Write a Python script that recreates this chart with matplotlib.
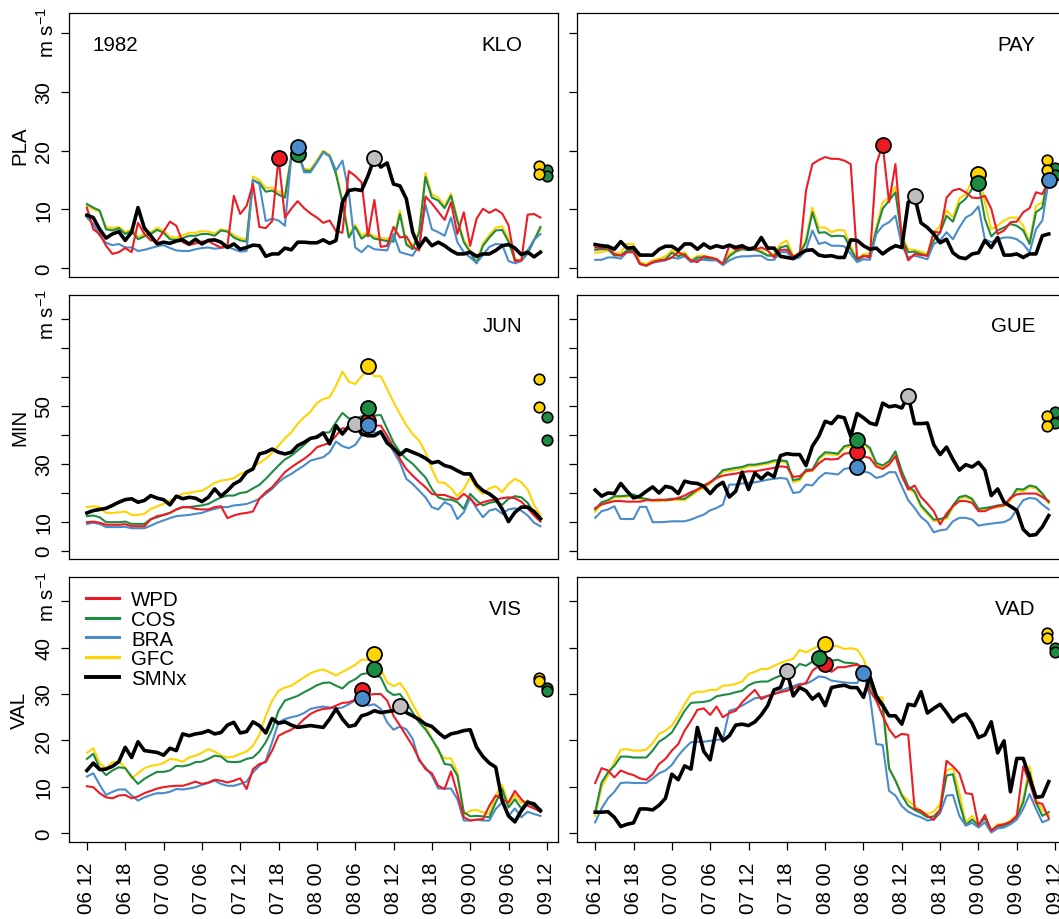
import numpy as np
import matplotlib
matplotlib.use('Agg')
import matplotlib.pyplot as plt
from matplotlib.lines import Line2D

plt.rcParams['font.family'] = ['Liberation Sans', 'DejaVu Sans']
plt.rcParams['mathtext.default'] = 'regular'

hours = np.arange(72)
tick_hours = np.arange(0, 73, 6)
tick_labels = ['06 12', '06 18', '07 00', '07 06', '07 12', '07 18', '08 00',
               '08 06', '08 12', '08 18', '09 00', '09 06', '09 12']
models = ['WPD', 'COS', 'BRA', 'GFC', 'SMNx']

# ---------------- KLO (PLA) ----------------
klo_wpd = [10.3,6.6,5.8,3.8,2.4,2.7,3.4,2.7,7.7,5.8, 4.7,4.6,6.2,7.9,7.2,4.4,3.9,4.2,4.5,4.6,
           4.0,3.5,3.8,12.3,9.2,10.6,14.3,7.0,6.8,8.0, 18.7,8.6,10.1,11.4,10.2,9.3,8.6,7.7,8.1,6.3,
           6.0,16.5,15.7,14.6,5.4,11.6,3.6,3.8,7.0,5.2, 5.4,3.6,3.0,12.2,11.0,9.6,8.2,11.2,5.8,9.5,
           3.8,8.4,10.1,9.4,10.0,9.3,7.3,1.2,1.3,9.1, 9.2,8.6]
klo_cos = [10.9,10.3,9.8,6.6,6.4,6.8,5.8,6.3,4.9,5.4, 5.8,6.5,6.0,4.9,4.8,5.1,5.5,5.5,5.8,5.8,
           5.5,6.4,6.2,5.2,4.7,4.5,15.0,14.5,13.0,13.2, 12.5,12.0,19.0,19.4,16.6,16.5,18.0,19.8,19.0,16.0,
           11.2,5.2,7.0,5.0,5.8,5.0,4.8,4.6,4.5,9.2, 4.0,3.2,6.0,15.5,12.0,11.5,10.2,12.3,8.0,4.4,
           2.7,0.8,3.8,5.2,6.4,6.5,4.5,1.3,1.2,2.5, 4.7,7.0]
klo_bra = [8.6,7.5,5.5,4.3,3.9,4.1,3.5,3.5,2.9,3.1, 3.4,3.7,3.9,3.4,3.0,2.9,2.9,3.2,3.4,3.5,
           3.3,3.4,3.6,3.2,2.8,2.9,15.0,14.3,8.0,8.4, 8.1,7.2,19.0,20.7,16.3,16.3,18.0,19.7,19.1,16.6,
           18.3,12.9,3.5,2.7,3.8,3.2,3.1,3.0,5.8,2.7, 2.4,2.1,4.0,10.8,6.6,6.1,5.5,8.6,4.4,2.7,
           1.8,0.9,2.2,3.6,4.1,4.0,1.2,0.8,1.2,3.0, 4.8,5.8]
klo_gfc = [10.7,10.0,9.6,7.0,6.8,7.0,6.1,6.6,5.3,5.8, 6.1,6.9,6.4,5.3,5.2,5.6,6.0,6.0,6.3,6.2,
           5.9,6.6,6.4,5.6,5.1,4.9,15.6,15.0,13.6,13.7, 13.0,12.5,19.3,19.8,16.9,16.8,18.4,20.0,19.3,16.4,
           11.6,5.6,7.4,5.5,6.1,5.4,5.1,5.0,4.9,9.8, 4.3,3.5,6.3,16.2,12.5,12.0,10.6,12.7,8.4,4.8,
           3.0,1.0,4.2,5.6,6.9,7.1,5.0,1.5,1.3,2.7, 4.9,6.6]
klo_smnx = [9.0,8.6,6.6,5.1,5.8,6.2,4.7,6.1,10.3,6.8, 5.5,4.1,4.4,4.2,4.6,4.8,4.1,4.9,4.1,4.7,
            4.8,4.4,3.5,4.1,3.2,3.5,3.9,3.8,2.0,2.4, 2.4,3.4,3.1,4.4,4.4,4.3,4.3,4.8,4.2,4.7,
            11.2,13.2,13.4,13.2,15.7,18.7,17.2,17.9,14.3,14.0, 11.8,6.1,3.5,5.1,3.8,4.4,3.8,3.0,2.4,2.4,
            2.7,2.0,2.4,2.4,3.0,3.8,4.0,3.4,2.3,2.7, 1.9,2.7]
klo_peak_model = ['SMNx', 'WPD', 'COS', 'BRA']
klo_peak_hour = [45, 30, 33, 33]
klo_peak_val = [18.7, 18.7, 19.4, 20.7]
klo_side_gfc = [17.3, 16.0]
klo_side_cos = [16.7, 15.6]

# ---------------- PAY (PLA) ----------------
pay_wpd = [3.5,3.4,3.5,2.4,2.1,2.7,2.7,0.7,0.4,1.0, 1.3,1.4,1.8,2.7,2.1,1.3,1.0,2.0,1.8,1.5,
           0.7,3.8,3.1,3.4,3.5,3.1,3.5,3.0,1.8,3.1, 3.1,2.0,2.2,13.2,17.7,18.4,18.9,18.6,18.6,18.3,
           17.7,1.6,2.1,1.8,17.7,21.0,11.2,17.7,4.9,1.3, 2.4,2.2,2.1,6.2,6.0,12.0,13.2,13.5,12.9,12.0,
           11.9,12.3,10.1,5.8,6.4,7.8,7.9,9.5,10.2,12.9, 12.6,14.9]
pay_cos = [3.1,3.2,3.2,2.1,2.2,3.0,3.1,0.7,0.4,1.0, 1.3,1.5,2.6,2.0,2.4,1.1,1.8,1.8,1.5,1.4,
           0.6,2.0,2.8,3.2,3.1,3.1,2.7,2.1,2.1,3.5, 3.8,1.8,2.4,4.4,9.5,6.0,6.1,5.4,5.5,5.4,
           3.2,1.3,2.0,2.1,6.4,10.1,11.5,12.9,5.1,2.7, 2.8,2.4,2.1,4.7,6.1,8.9,7.9,10.9,11.8,13.5,
           14.4,8.4,5.4,6.4,6.9,7.5,7.2,6.4,4.1,9.5, 10.3,16.0]
pay_bra = [1.4,1.4,1.8,1.8,1.6,2.7,2.7,0.7,0.4,0.9, 1.1,1.3,1.8,1.6,2.0,1.0,1.4,1.4,1.3,1.3,
           0.5,1.3,1.8,2.0,2.0,2.1,2.1,1.4,1.4,2.7, 2.7,1.5,1.8,3.1,6.4,4.1,4.4,3.8,3.8,3.7,
           2.4,1.0,1.5,1.4,5.8,7.2,7.8,8.9,3.8,1.8, 2.1,1.8,1.5,4.1,4.7,6.1,4.9,6.9,8.6,9.2,
           10.5,4.9,4.4,4.9,5.2,5.2,4.9,4.1,2.7,6.6, 8.1,15.0]
pay_gfc = [2.6,2.7,3.0,2.4,2.7,4.1,4.1,1.0,0.7,1.3, 1.6,2.0,3.0,2.4,2.7,1.3,2.1,2.1,1.8,1.6,
           0.7,2.4,3.1,3.5,3.1,3.2,3.0,2.2,2.4,4.1, 4.7,2.1,2.6,4.9,10.3,6.9,6.9,6.1,6.5,6.4,
           3.8,1.4,2.4,2.4,6.9,11.2,12.0,13.8,5.5,3.2, 3.1,2.8,2.4,6.0,7.2,9.8,8.6,11.8,12.6,14.9,
           16.0,11.2,6.6,7.2,8.1,8.6,8.6,7.2,4.4,10.6, 11.2,15.2]
pay_smnx = [4.0,3.8,3.7,3.2,4.5,3.4,3.5,2.2,2.2,2.2, 3.2,3.7,3.7,3.0,4.1,4.1,3.2,4.1,3.4,3.8,
            3.5,3.9,3.5,3.8,3.2,3.5,5.2,3.4,3.4,2.0, 1.8,1.6,2.4,3.0,3.1,2.2,2.0,2.1,1.8,1.8,
            4.8,4.7,3.8,3.2,3.4,2.4,3.2,3.8,3.5,11.2, 12.2,7.7,6.9,5.8,4.3,4.9,2.6,1.8,1.6,2.4,
            2.6,4.7,3.5,5.2,2.2,2.2,2.4,1.8,2.4,2.4, 5.5,5.8]
pay_peak_model = ['SMNx', 'WPD', 'GFC', 'COS', 'BRA']
pay_peak_hour = [50, 45, 60, 60, 71]
pay_peak_val = [12.2, 21.0, 16.0, 14.4, 15.0]
pay_side_gfc = [18.4, 16.7]
pay_side_cos = [17.0, 15.8]

# ---------------- JUN (MIN) ----------------
jun_wpd = [9.8,10.0,9.6,8.9,8.9,8.9,9.1,8.4,8.4,8.4, 10.7,11.9,12.3,13.0,14.2,15.0,15.0,14.4,14.2,14.2,
           15.0,15.3,11.2,12.1,12.7,13.0,13.5,17.9,20.2,21.9, 24.5,27.1,28.8,30.3,31.7,33.4,35.7,36.5,37.2,39.7,
           42.3,42.1,41.8,44.4,43.0,43.2,43.2,39.7,35.7,31.7, 28.2,25.9,23.8,21.9,19.6,19.2,19.2,18.4,17.6,19.6,
           17.9,15.6,16.7,17.3,17.6,18.1,18.4,18.1,16.9,14.6, 12.1,10.0]
jun_cos = [11.9,12.1,11.5,9.8,9.8,9.8,10.0,9.2,9.2,9.2, 10.9,11.5,12.3,13.0,14.2,15.0,15.0,15.3,15.6,16.1,
           17.3,18.4,19.0,19.0,19.9,20.2,21.5,22.7,24.8,27.1, 29.4,31.5,32.8,34.6,36.5,38.6,39.7,40.7,40.9,44.4,
           47.6,45.7,45.5,46.4,46.7,46.7,46.9,42.1,37.4,34.0, 31.7,30.0,27.6,25.3,21.3,18.4,17.6,17.6,16.7,14.4,
           19.6,17.3,15.6,16.5,16.9,15.8,17.9,18.8,18.4,16.5, 13.0,10.9]
jun_bra = [9.2,9.6,9.2,8.1,8.1,8.1,8.2,7.7,7.7,7.7, 8.6,9.6,10.4,11.2,11.9,12.1,12.3,12.7,13.0,13.8,
           14.4,15.0,15.0,15.6,15.8,16.1,16.9,17.9,19.6,21.3, 23.6,25.3,26.5,28.0,29.4,31.1,31.7,32.3,34.0,37.7,
           36.1,35.4,36.5,39.7,40.9,40.7,41.1,38.6,34.2,30.5, 24.8,23.0,20.7,18.4,15.0,14.2,16.7,15.6,10.9,13.2,
           18.4,14.6,11.5,13.8,14.4,12.7,14.2,14.6,13.8,12.1, 9.6,8.4]
jun_gfc = [15.0,15.3,15.0,13.0,13.0,13.2,13.5,12.3,12.3,12.7, 14.4,15.3,16.1,17.3,18.4,19.6,19.9,20.4,20.7,21.9,
           23.4,24.2,24.5,25.0,26.5,27.3,28.8,30.3,31.7,33.8, 36.3,38.8,40.9,43.8,46.1,48.0,51.0,52.4,53.0,57.0,
           61.9,58.4,57.6,60.3,62.5,60.3,60.3,55.9,51.3,47.2, 43.4,40.3,38.0,34.0,28.2,23.6,23.4,21.5,18.8,21.3,
           25.3,21.5,19.6,21.5,22.2,20.2,23.0,24.8,23.6,21.1, 15.8,12.1]
jun_smnx = [13.0,13.8,14.2,14.6,15.6,16.7,17.6,17.9,16.7,17.3, 19.0,18.1,17.6,15.8,18.8,17.9,18.4,18.1,16.9,18.4,
            21.3,18.8,20.7,23.0,24.2,27.1,28.2,33.4,34.0,35.1, 34.0,33.4,34.0,36.3,37.4,38.8,39.2,40.7,36.9,43.2,
            40.3,43.0,43.8,40.3,39.7,39.7,41.1,37.2,35.4,33.1, 34.9,34.0,33.1,31.9,30.3,30.8,29.4,28.8,27.6,26.5,
            26.5,22.7,20.7,19.6,17.9,14.4,10.0,13.2,15.0,15.0, 13.5,11.0]
jun_peak_model = ['SMNx', 'WPD', 'GFC', 'COS', 'BRA']
jun_peak_hour = [42, 44, 44, 44, 44]
jun_peak_val = [43.8, 44.9, 63.7, 49.3, 43.4]
jun_side_gfc = [59.5, 49.6]
jun_side_cos = [46.1, 38.4]

# ---------------- GUE (MIN) ----------------
gue_wpd = [14.7,15.9,16.5,17.1,17.1,16.9,16.9,16.9,17.4,17.4, 17.6,17.4,17.6,18.2,19.0,20.2,21.1,22.5,23.6,25.1,
           25.9,26.3,26.6,27.1,27.4,27.4,27.8,28.2,28.6,29.1, 28.9,25.5,25.7,27.4,27.8,30.1,31.7,31.5,31.7,33.5,
           33.8,33.6,32.6,32.0,29.1,28.2,29.7,32.6,25.7,21.1, 22.5,18.5,16.2,13.6,9.0,12.8,15.3,17.1,17.1,16.5,
           13.6,13.6,14.7,15.3,15.6,18.2,19.4,19.7,19.7,19.7, 18.5,17.1]
gue_cos = [14.2,16.7,17.4,18.8,18.8,19.0,19.4,18.2,17.9,17.4, 17.4,17.6,17.9,17.9,17.9,19.4,21.1,22.2,23.6,25.5,
           27.8,28.2,28.6,28.9,29.7,29.7,30.1,30.5,31.2,31.2, 30.9,24.3,24.8,28.0,28.0,32.0,34.0,33.8,33.5,36.1,
           36.6,37.0,37.2,35.5,30.3,29.4,30.9,34.3,27.4,22.2, 20.5,15.6,13.2,10.7,10.9,11.6,15.6,18.5,19.0,17.9,
           14.4,14.7,15.1,15.6,15.9,17.9,21.3,21.1,22.5,22.0, 19.7,16.7]
gue_bra = [11.3,13.6,14.2,15.3,10.9,10.9,10.9,15.1,15.1,9.8, 9.8,9.9,10.1,10.1,10.1,10.7,11.6,12.4,13.9,14.7,
           15.9,22.8,22.8,23.2,23.4,23.6,24.0,24.5,24.8,25.1, 24.8,19.9,20.2,22.8,22.5,25.1,26.8,26.6,26.3,28.2,
           28.6,28.0,27.4,26.8,25.1,25.7,27.1,27.1,22.2,17.4, 14.7,11.6,9.8,6.3,7.0,7.3,10.1,11.3,11.3,10.7,
           8.6,9.0,9.3,9.6,9.8,10.9,14.2,17.4,18.2,17.9, 15.9,14.2]
gue_gfc = [13.4,16.1,16.9,18.3,18.4,18.6,18.9,17.8,17.6,17.1, 17.1,17.3,17.5,17.5,17.4,18.9,20.5,21.7,23.1,25.0,
           27.2,27.6,28.0,28.3,29.1,29.2,29.6,30.0,30.6,30.7, 30.4,23.6,24.2,27.4,27.5,31.4,33.4,33.2,33.0,35.5,
           36.0,36.5,36.7,34.9,29.7,28.9,30.3,33.6,26.6,21.5, 19.9,15.0,12.6,10.2,10.4,11.0,15.0,17.9,18.5,17.4,
           13.9,14.2,14.6,15.1,15.4,17.3,20.7,20.6,21.9,21.5, 19.2,16.3]
gue_smnx = [20.9,18.8,19.9,19.7,23.2,20.5,18.2,18.8,20.5,22.0, 19.9,22.2,21.7,19.7,24.0,23.4,23.2,22.2,19.7,22.2,
            23.6,18.5,20.5,27.1,21.1,26.8,24.8,26.8,25.5,32.8, 33.5,33.2,33.2,29.4,36.1,39.5,44.7,43.9,46.4,45.9,
            39.5,47.4,45.9,44.1,43.5,51.0,49.7,50.1,49.3,53.6, 43.9,43.9,44.1,36.6,33.2,35.8,31.5,27.8,29.7,28.9,
            30.5,27.8,19.0,21.3,16.7,15.3,13.9,7.3,5.2,5.5, 8.2,12.1]
gue_peak_model = ['SMNx', 'WPD', 'COS', 'BRA']
gue_peak_hour = [49, 41, 41, 41]
gue_peak_val = [53.6, 34.0, 38.1, 28.9]
gue_side_gfc = [46.7, 43.0]
gue_side_cos = [47.8, 44.1]

# ---------------- VIS (VAL) ----------------
vis_wpd = [10.1,9.9,8.6,7.7,7.5,8.1,8.2,7.5,7.9,8.6, 9.1,9.6,9.9,10.1,10.2,10.2,10.6,11.1,10.6,10.9,
           11.5,11.3,10.9,11.3,11.8,9.5,13.8,14.9,15.3,17.8, 21.0,21.7,22.3,23.2,24.6,25.7,26.4,26.8,26.9,27.5,
           28.1,28.2,28.8,29.8,29.8,30.0,30.0,28.6,25.3,23.2, 21.0,18.8,16.0,13.8,12.9,10.2,9.5,13.3,8.5,3.4,
           2.7,2.9,3.0,5.9,8.1,7.3,6.6,9.1,7.3,5.9, 5.3,4.6]
vis_cos = [16.0,17.1,14.0,12.5,13.5,14.2,14.0,12.2,10.6,11.7, 12.5,13.2,13.2,13.5,14.5,14.4,14.7,15.3,15.4,16.0,
           16.7,16.5,15.4,15.3,15.4,16.0,16.3,17.6,19.6,22.4, 26.4,28.6,29.1,29.6,30.4,31.1,31.9,32.4,32.5,31.8,
           31.2,32.5,33.2,34.3,34.5,34.1,33.6,30.7,29.8,30.0, 28.2,26.0,23.9,22.4,20.3,18.1,14.9,14.7,12.4,4.5,
           3.6,3.7,3.6,3.4,6.6,9.5,5.5,7.3,5.3,7.0, 5.5,5.2]
vis_bra = [12.2,12.9,10.4,8.2,8.9,9.4,9.4,8.1,7.0,7.7, 8.2,8.6,8.6,8.9,9.5,9.4,9.6,9.9,10.4,10.8,
           11.3,10.6,10.2,10.2,10.6,11.1,13.1,14.5,15.6,19.6, 23.9,24.6,25.0,25.3,25.9,26.8,27.1,27.3,27.1,26.9,
           27.1,27.8,28.6,29.3,27.5,27.8,26.8,23.9,22.3,23.0, 22.4,20.3,15.6,14.2,12.4,9.6,9.6,9.6,7.3,2.7,
           2.7,2.9,2.7,2.7,5.2,6.6,3.7,5.3,3.4,4.6, 4.1,3.7]
vis_gfc = [17.3,18.3,15.1,14.0,15.3,15.4,14.2,11.8,12.9,14.0, 14.5,14.7,15.1,16.0,15.8,15.4,16.3,16.7,17.3,18.1,
           17.6,16.7,16.3,16.5,17.1,17.6,18.8,21.2,25.3,28.6, 30.7,31.4,31.8,32.7,33.6,34.5,35.0,35.3,34.7,34.0,
           34.8,35.5,36.3,37.4,37.4,37.2,35.4,32.5,31.7,32.4, 30.5,27.8,25.3,23.2,20.3,17.6,16.1,16.1,13.1,3.9,
           4.8,5.0,4.5,4.1,8.1,10.4,6.3,8.2,6.5,7.0, 6.0,5.0]
vis_smnx = [13.5,15.1,13.7,13.8,14.4,15.4,18.5,16.3,19.7,17.8, 17.6,17.4,16.8,18.3,17.8,21.4,21.0,21.4,21.6,22.1,
            21.4,21.7,23.3,23.9,21.6,21.9,24.0,23.2,21.6,24.7, 23.7,24.0,23.3,22.8,23.0,23.2,23.0,22.8,24.6,26.8,
            24.6,23.0,23.3,25.3,25.7,26.4,26.0,26.2,26.4,27.5, 26.0,25.3,24.5,23.5,23.0,21.7,20.6,21.4,21.7,22.1,
            22.3,18.5,16.5,15.1,14.2,7.0,3.7,2.4,4.8,6.6, 6.3,4.8]
vis_peak_model = ['SMNx', 'WPD', 'GFC', 'COS', 'BRA']
vis_peak_hour = [49, 43, 45, 45, 43]
vis_peak_val = [27.5, 30.9, 38.6, 35.5, 29.1]
vis_side_gfc = [33.4, 32.8]
vis_side_cos = [31.2, 30.7]

# ---------------- VAD (VAL) ----------------
vad_wpd = [10.8,14.0,13.5,12.0,13.5,12.9,12.5,11.8,11.5,12.7, 14.9,16.0,17.8,19.2,22.1,24.2,26.6,26.9,25.5,27.3,
           25.0,25.9,26.4,28.2,29.6,30.9,28.9,29.6,30.0,30.4, 30.7,31.2,31.9,32.4,35.0,36.1,35.5,34.8,35.8,35.8,
           36.1,36.3,35.8,30.7,28.6,25.3,22.4,20.6,21.4,21.2, 5.3,4.8,3.7,2.9,5.0,15.6,14.4,12.9,8.6,8.4,
           1.6,3.9,0.5,1.6,1.9,2.4,3.7,14.4,10.9,6.6, 6.3,3.2]
vad_cos = [4.5,10.9,13.1,14.5,16.5,16.5,16.3,16.3,16.3,17.8, 19.7,20.6,21.7,24.0,26.4,28.1,28.2,28.3,28.6,29.5,
           29.8,30.0,30.4,30.7,31.9,32.5,32.7,32.7,33.4,34.0, 34.5,35.0,36.5,36.1,37.0,37.7,37.7,37.2,37.4,36.8,
           36.7,36.5,35.5,32.2,28.6,27.3,14.0,11.3,8.1,5.9, 5.0,4.3,3.4,3.6,5.0,12.4,12.7,6.6,1.7,2.9,
           1.7,3.2,0.5,1.4,1.6,2.3,3.4,6.6,13.1,6.6, 3.7,4.5]
vad_bra = [2.3,5.3,7.5,8.9,10.8,10.9,10.8,10.8,10.8,11.8, 12.9,13.5,14.7,16.7,18.3,19.6,19.7,19.7,19.9,20.1,
           20.3,26.4,26.8,27.5,28.3,29.1,29.3,29.6,30.0,30.7, 31.2,31.7,32.2,32.2,32.9,33.8,33.6,32.9,32.7,32.5,
           32.4,32.4,34.5,29.6,19.2,19.0,9.1,8.1,5.8,4.6, 3.9,3.4,2.7,2.9,4.3,8.1,8.2,3.7,1.6,2.2,
           1.2,2.3,0.1,1.0,1.2,1.9,2.9,5.2,8.4,5.2, 2.3,2.9]
vad_gfc = [3.7,9.9,12.4,15.3,18.0,18.1,17.8,17.8,18.0,19.4, 21.4,22.1,23.2,25.3,27.8,30.0,30.5,30.5,30.9,30.9,
           31.8,31.9,32.2,32.7,34.3,34.8,35.4,35.4,36.1,36.7, 37.2,37.6,39.5,39.0,39.7,40.4,40.8,40.4,40.3,39.7,
           39.9,39.6,37.6,33.6,29.3,29.3,13.8,11.5,8.4,7.0, 5.8,4.8,4.1,4.6,6.3,13.5,14.0,8.8,2.3,3.7,
           1.6,3.6,0.5,1.9,1.9,2.7,3.9,7.3,14.4,7.3, 5.0,3.9]
vad_smnx = [4.5,4.5,4.6,3.4,1.4,1.9,2.2,5.2,5.2,5.0, 6.0,7.5,12.7,11.5,14.5,13.8,22.8,17.6,15.8,22.6,
            19.9,21.0,23.3,23.5,23.2,24.0,25.5,27.5,30.9,31.4, 35.0,29.6,31.4,30.7,28.9,30.0,27.5,31.4,31.7,31.9,
            31.4,31.4,29.3,33.8,29.6,27.6,25.3,25.3,23.5,27.8, 27.5,30.5,25.9,26.9,27.8,26.0,24.0,25.2,25.7,23.7,
            20.6,21.2,24.0,17.3,19.9,8.9,16.1,16.1,12.0,7.7, 7.9,11.1]
vad_peak_model = ['SMNx', 'WPD', 'GFC', 'COS', 'BRA']
vad_peak_hour = [30, 36, 36, 35, 42]
vad_peak_val = [35.0, 36.5, 40.8, 37.7, 34.5]
vad_side_gfc = [43.2, 42.0]
vad_side_cos = [39.9, 39.0]

line_color = {'WPD': '#ED1C24', 'COS': '#1E8B43', 'BRA': '#4A8BCB',
              'GFC': '#FFD400', 'SMNx': 'black'}
dot_color = dict(line_color, SMNx='#BEBEBE')
draw_order = ['GFC', 'COS', 'BRA', 'WPD', 'SMNx']
dot_order = ['SMNx', 'WPD', 'GFC', 'COS', 'BRA']

W, H = 1059, 920
FS = 14.8
fig = plt.figure(figsize=(W / 100, H / 100), dpi=100)

cols = [(69, 557.7), (577.3, 1066)]
rows = [(13.8, 278.3), (295.7, 560.0), (578.3, 843.3)]
row_name = ['PLA', 'MIN', 'VAL']
row_ylim = [(-1.58, 43.48), (-2.94, 88.5), (-2.0, 55.2)]
row_ticks = [np.arange(0, 41, 10), np.arange(0, 81, 10), np.arange(0, 51, 10)]
row_labeled = [[0, 10, 20, 30], [0, 10, 30, 50], [0, 10, 20, 30, 40]]

panels = [
    ('KLO', [klo_wpd, klo_cos, klo_bra, klo_gfc, klo_smnx],
     (klo_peak_model, klo_peak_hour, klo_peak_val), klo_side_gfc, klo_side_cos),
    ('PAY', [pay_wpd, pay_cos, pay_bra, pay_gfc, pay_smnx],
     (pay_peak_model, pay_peak_hour, pay_peak_val), pay_side_gfc, pay_side_cos),
    ('JUN', [jun_wpd, jun_cos, jun_bra, jun_gfc, jun_smnx],
     (jun_peak_model, jun_peak_hour, jun_peak_val), jun_side_gfc, jun_side_cos),
    ('GUE', [gue_wpd, gue_cos, gue_bra, gue_gfc, gue_smnx],
     (gue_peak_model, gue_peak_hour, gue_peak_val), gue_side_gfc, gue_side_cos),
    ('VIS', [vis_wpd, vis_cos, vis_bra, vis_gfc, vis_smnx],
     (vis_peak_model, vis_peak_hour, vis_peak_val), vis_side_gfc, vis_side_cos),
    ('VAD', [vad_wpd, vad_cos, vad_bra, vad_gfc, vad_smnx],
     (vad_peak_model, vad_peak_hour, vad_peak_val), vad_side_gfc, vad_side_cos),
]

for k, (station, values, peaks, side_gfc, side_cos) in enumerate(panels):
    r, c = divmod(k, 2)
    x0, x1 = cols[c]
    y0, y1 = rows[r]
    ax = fig.add_axes([x0 / W, 1 - y1 / H, (x1 - x0) / W, (y1 - y0) / H])
    series = dict(zip(models, values))

    for m in draw_order:
        lw = 2.6 if m == 'SMNx' else 1.5
        ax.plot(hours, series[m], color=line_color[m], lw=lw,
                solid_joinstyle='round', zorder=2)

    # side markers past the last hour
    ax.plot(np.full(len(side_cos), 72.0), side_cos, 'o', ms=7.6, mfc=line_color['COS'],
            mec='black', mew=1.2, clip_on=False, zorder=4)
    ax.plot(np.full(len(side_gfc), 70.8), side_gfc, 'o', ms=7.6, mfc=line_color['GFC'],
            mec='black', mew=1.2, clip_on=False, zorder=4)

    pm, ph, pv = peaks
    for m in dot_order:
        for mm, h, v in zip(pm, ph, pv):
            if mm == m:
                ax.plot(h, v, 'o', ms=10.8, mfc=dot_color[m], mec='black',
                        mew=1.3, clip_on=False, zorder=5)

    ax.set_xlim(-2.8, 73.7)
    ax.set_ylim(*row_ylim[r])
    ax.set_yticks(row_ticks[r])
    for s in ax.spines.values():
        s.set_linewidth(0.9)
    ax.tick_params(axis='y', direction='out', length=5.5, width=0.9, pad=6,
                   labelsize=FS)
    if c == 0:
        ax.set_yticklabels([str(t) if t in row_labeled[r] else '' for t in row_ticks[r]],
                           rotation=90, va='center')
        fig.text(19.5 / W, 1 - (y0 + y1) / 2 / H, row_name[r], rotation=90,
                 ha='center', va='center', fontsize=FS)
        fig.text(47 / W, 1 - (y0 - 7) / H, 'm s$^{-1}$', rotation=90,
                 ha='center', va='top', fontsize=FS)
    else:
        ax.set_yticklabels([])

    if r == 2:
        ax.set_xticks(tick_hours)
        ax.set_xticklabels(tick_labels, rotation=90)
        ax.tick_params(axis='x', direction='out', length=6, width=0.9, pad=7.8,
                       labelsize=FS)
    else:
        ax.set_xticks([])

    base = 1 - 36.8 / (y1 - y0)
    right = 1 - (35.5 if c == 0 else 30.5) / (x1 - x0)
    ax.text(right, base, station, transform=ax.transAxes, ha='right',
            va='baseline', fontsize=FS)
    if k == 0:
        ax.text(24 / (x1 - x0), base, '1982', transform=ax.transAxes,
                ha='left', va='baseline', fontsize=FS)
    if k == 4:
        handles = [Line2D([], [], color=line_color[m], lw=2.8 if m == 'SMNx' else 2.2)
                   for m in models]
        ax.legend(handles, models, loc='upper left',
                  bbox_to_anchor=(17 / (x1 - x0), 1 - 13 / (y1 - y0)),
                  frameon=False, fontsize=FS, handlelength=1.6,
                  handletextpad=0.6, labelspacing=0.03, borderpad=0,
                  borderaxespad=0)

fig.savefig('out.png', dpi=100)
